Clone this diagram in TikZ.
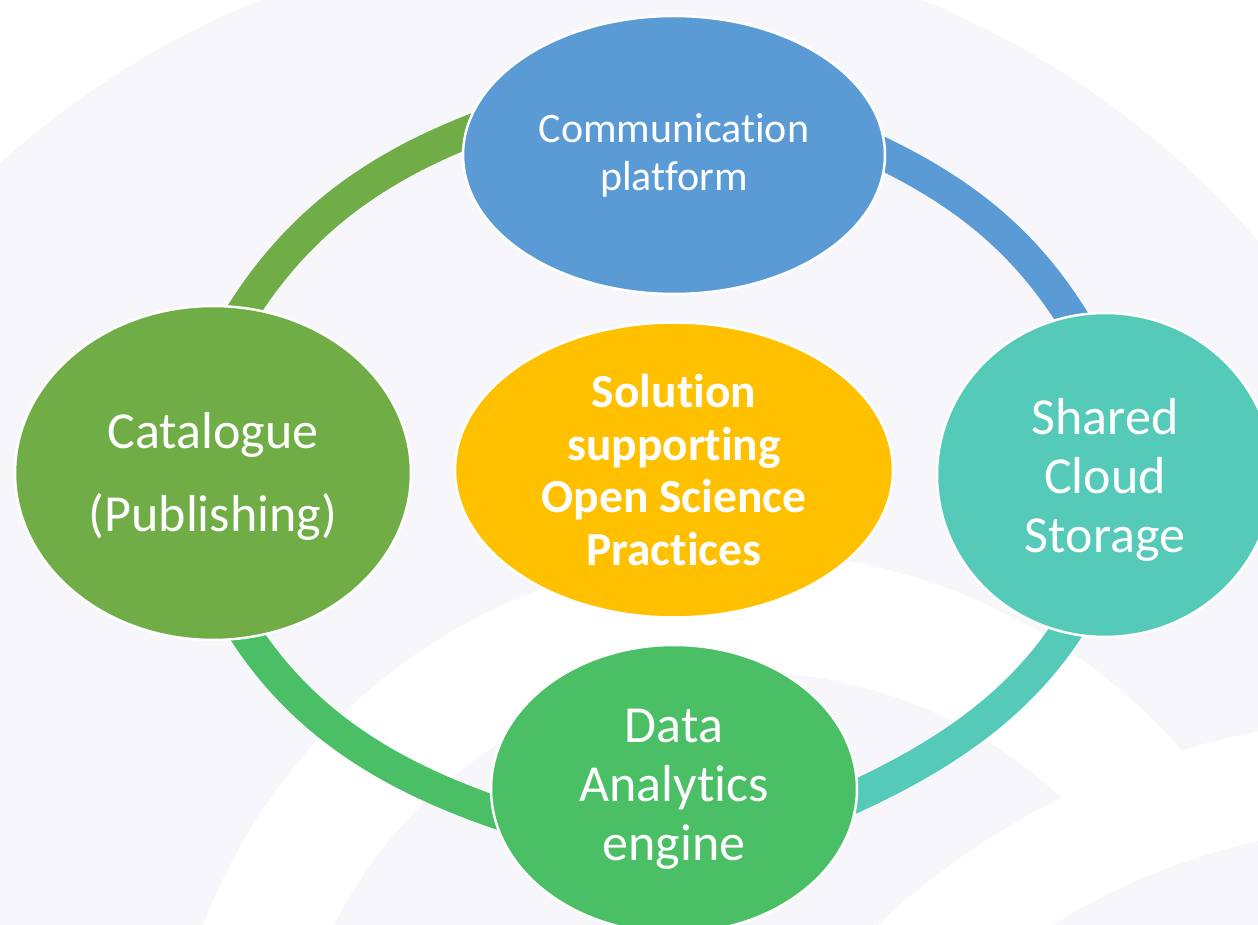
\documentclass[tikz,border=0pt]{standalone}
\usepackage{fontspec}
\setmainfont{Carlito}[Ligatures=NoCommon]
\usetikzlibrary{shapes.geometric}
\pgfdeclarelayer{back}
\pgfdeclarelayer{links}
\pgfsetlayers{back,links,main}
\definecolor{commBlue}{HTML}{5B9BD5}
\definecolor{catOlive}{HTML}{70AD47}
\definecolor{cloudTeal}{HTML}{55CAB8}
\definecolor{dataGreen}{HTML}{4ABF65}
\definecolor{coreGold}{HTML}{FFC000}
\definecolor{paleLav}{HTML}{F7F7FB}
\begin{document}
\begin{tikzpicture}[x=0.02cm,y=0.02cm]
		\tikzstyle{Bubble} = [ellipse, draw=white, line width=1.4pt, text=white, align=center, inner sep=0pt, font=\fontsize{29.6pt}{33.6pt}\selectfont]
		\tikzstyle{CoreBubble} = [Bubble, fill=coreGold, font=\fontsize{27pt}{29.9pt}\selectfont\bfseries]
		\tikzstyle{Ring} = [line width=0.64cm, shorten <=-12pt, shorten >=-12pt]
		
		\useasboundingbox (0,0) rectangle (1258,925);
		\begin{pgfonlayer}{back}
		\fill [white] (0,0) rectangle (1258,925);
		\fill [paleLav] (591,107) circle [radius=882];
		\fill [white, even odd rule] (745,-207) circle [radius=580] circle [radius=460];
		\fill [paleLav] (1403,-563) circle [radius=663];
		\fill [white, even odd rule] (1403,-563) circle [radius=770] circle [radius=663];
		\end{pgfonlayer}
		
		\node (commNode) [Bubble, fill=commBlue, minimum width=8.44cm, minimum height=5.56cm, font=\fontsize{23.9pt}{27.3pt}\selectfont] at (674,770) {Communication\\platform};
		\node (catNode) [Bubble, fill=catOlive, minimum width=7.92cm, minimum height=6.68cm] at (213,452) {\\[-9pt]Catalogue\\[13.6pt](Publishing)};
		\node (cloudNode) [Bubble, fill=cloudTeal, minimum width=6.72cm, minimum height=6.48cm] at (1105,450) {\\[-7.5pt]Shared\\Cloud\\Storage};
		\node (dataNode) [Bubble, fill=dataGreen, minimum width=7.32cm, minimum height=5.76cm] at (674,136) {Data\\Analytics\\engine};
		\node (coreNode) [CoreBubble, minimum width=8.76cm, minimum height=5.9cm] at (674,455) {Solution\\supporting\\Open Science\\Practices};
		
		\begin{pgfonlayer}{links}
		\draw [Ring, draw=catOlive] (catNode.79) .. controls +(46.7,78) and +(-96.8,-36.1) .. (commNode.174);
		\draw [Ring, draw=commBlue] (commNode.0) .. controls +(81.8,-37.9) and +(-40.5,69.3) .. (cloudNode.102);
		\draw [Ring, draw=cloudTeal] (cloudNode.256) .. controls +(-42,-70.2) and +(84.2,37.2) .. (dataNode.358);
		\draw [Ring, draw=dataGreen] (dataNode.187) .. controls +(-104.7,34.3) and +(50.2,-82.4) .. (catNode.282);
		\end{pgfonlayer}
\end{tikzpicture}
\end{document}
